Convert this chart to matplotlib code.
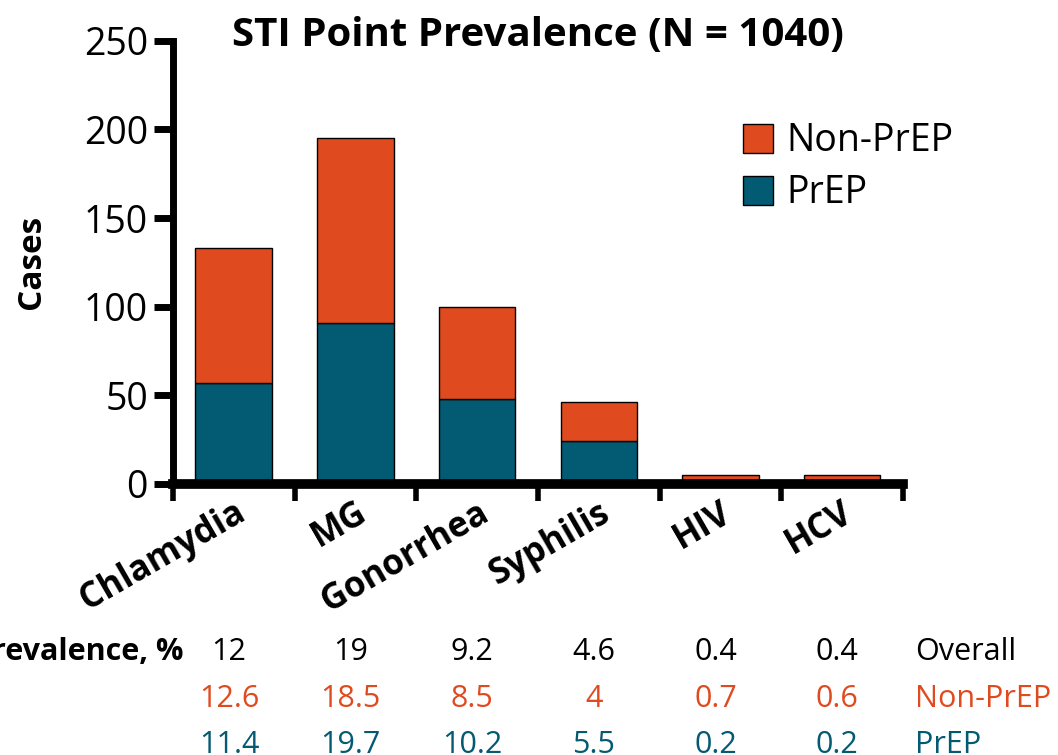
import matplotlib
matplotlib.use("Agg")
import matplotlib.pyplot as plt
import numpy as np

# Data
categories = ["Chlamydia", "MG", "Gonorrhea", "Syphilis", "HIV", "HCV"]
prep_cases = [57, 91, 48, 24, 1, 1]
nonprep_cases = [76, 104, 52, 22, 4, 4]

prev_overall = ["12", "19", "9.2", "4.6", "0.4", "0.4"]
prev_nonprep = ["12.6", "18.5", "8.5", "4", "0.7", "0.6"]
prev_prep = ["11.4", "19.7", "10.2", "5.5", "0.2", "0.2"]

ORANGE = "#E04A1F"
TEAL = "#035A73"

plt.rcParams['font.family'] = ['Open Sans', 'DejaVu Sans']

fig = plt.figure(figsize=(10.58, 7.55), dpi=100)
ax = fig.add_axes([0.1635, 0.359, 0.69, 0.587])

x = np.arange(len(categories))
ax.bar(x, prep_cases, width=0.63, color=TEAL, edgecolor="black", linewidth=1, label="PrEP", zorder=2)
ax.bar(x, nonprep_cases, width=0.63, bottom=prep_cases, color=ORANGE, edgecolor="black",
       linewidth=1, label="Non-PrEP", zorder=2)

ax.set_xlim(-0.5, len(categories) - 0.5)
ax.set_ylim(0, 250)
ax.set_yticks(np.arange(0, 251, 50))
ax.tick_params(axis="y", labelsize=27, width=5, length=14, pad=4)

# ticks at the category boundaries, labels at category centres
ax.set_xticks(np.arange(-0.5, len(categories), 1))
ax.set_xticklabels([])
ax.tick_params(axis="x", width=4, length=12, direction="out")
for i, name in enumerate(categories):
    ax.text(i + 0.07, -0.06, name, transform=ax.get_xaxis_transform(), rotation=30,
            rotation_mode="anchor", ha="right", va="center", fontsize=25, fontweight="bold")

for side in ["top", "right"]:
    ax.spines[side].set_visible(False)
ax.spines["left"].set_linewidth(5)
ax.spines["bottom"].set_linewidth(7)
ax.spines["bottom"].set_zorder(3)

ax.set_ylabel("Cases", fontsize=24, fontweight="bold", labelpad=26)
ax.set_title("STI Point Prevalence (N = 1040)", fontsize=29, fontweight="bold", pad=-4, y=1.0)

handles, labels = ax.get_legend_handles_labels()
ax.legend(handles[::-1], labels[::-1], loc="upper left", bbox_to_anchor=(0.76, 0.85),
          frameon=False, fontsize=27, handlelength=0.8, handleheight=0.8,
          handletextpad=0.35, labelspacing=0.38, borderaxespad=0)

# prevalence table under the chart
tr = ax.get_xaxis_transform()
rows = [(prev_overall, "black", "Overall", -0.379),
        (prev_nonprep, ORANGE, "Non-PrEP", -0.486),
        (prev_prep, TEAL, "PrEP", -0.589)]
for vals, col, name, yy in rows:
    for i, v in enumerate(vals):
        ax.text(i - 0.04, yy, v, transform=tr, ha="center", va="center", fontsize=22, color=col)
    ax.text(5.6, yy, name, transform=tr, ha="left", va="center", fontsize=22, color=col)
ax.text(-0.414, -0.379, "Prevalence, %", transform=tr, ha="right", va="center",
        fontsize=22, fontweight="bold")

fig.savefig("out.png", dpi=100)
